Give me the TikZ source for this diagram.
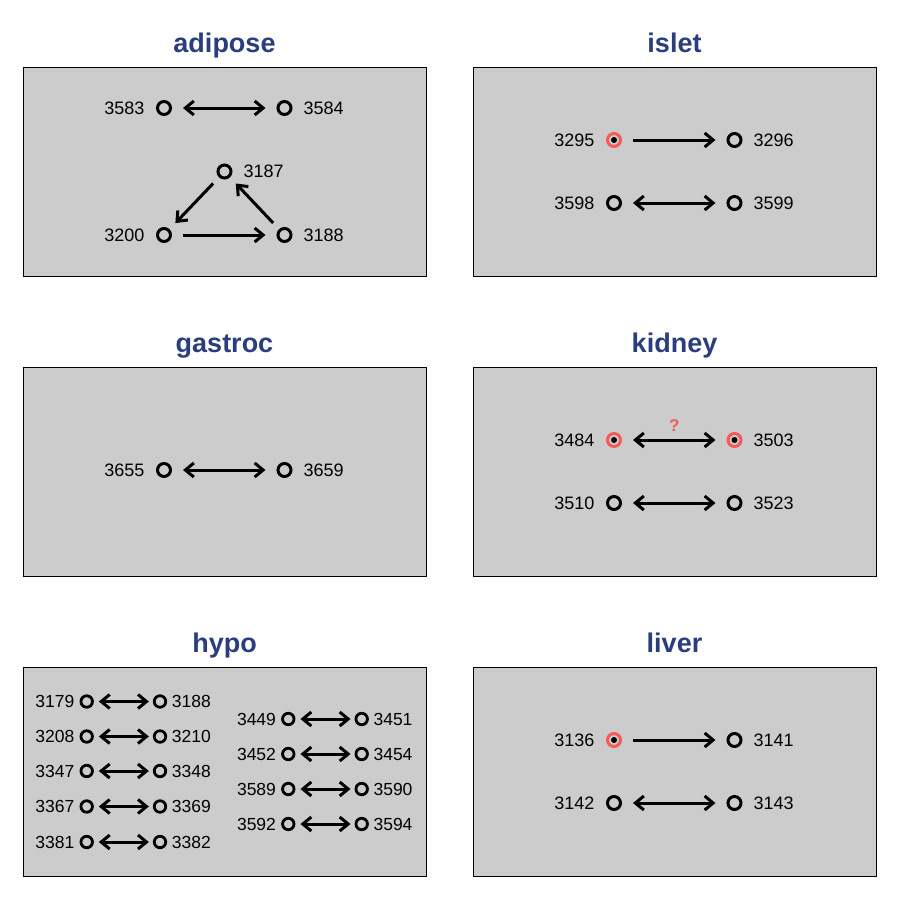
\documentclass[tikz,border=0pt]{standalone}
\usepackage{fontspec}
\setmainfont{Liberation Sans}
\usetikzlibrary{arrows.meta}
\definecolor{panelgray}{HTML}{CCCCCC}
\definecolor{ttlblue}{HTML}{2A3D7F}
\definecolor{ringred}{HTML}{F45A5A}
\tikzset{
  vtip/.tip={Straight Barb[length=8.5pt, width=14pt]},
  panel/.style={draw=black, line width=1pt, fill=panelgray},
  ttl/.style={font=\fontsize{27}{30}\selectfont\bfseries, text=ttlblue, anchor=base},
  vtx/.style={circle, draw=black, line width=3pt, minimum size=13pt, inner sep=0pt},
  rvtx/.style={vtx, draw=ringred, path picture={\fill[black] (path picture bounding box.center) circle (3pt);}},
  svtx/.style={circle, draw=black, line width=2.8pt, minimum size=11.5pt, inner sep=0pt},
  lbl/.style={font=\fontsize{18}{21}\selectfont, inner sep=0pt},
  slbl/.style={font=\fontsize{17.5}{21}\selectfont, inner sep=0pt},
  ll/.style={label={[lbl, label distance=11.5pt]left:#1}},
  rl/.style={label={[lbl, label distance=11pt]right:#1}},
  sll/.style={label={[slbl, label distance=5pt]left:#1}},
  srl/.style={label={[slbl, label distance=4.5pt]right:#1}},
  one/.style={-{vtip}, line width=3pt, shorten >=11pt, shorten <=11pt},
  two/.style={{vtip}-{vtip}, line width=3pt, shorten >=11pt, shorten <=11pt},
  diag/.style={-{vtip}, line width=3pt, shorten >=8.5pt, shorten <=8.5pt},
  stwo/.style={{vtip}-{vtip}, line width=3pt, shorten >=4pt, shorten <=5pt},
  qm/.style={font=\fontsize{17}{20}\selectfont\bfseries, text=ringred}
}
\begin{document}
\begin{tikzpicture}[x=1pt, y=-1pt]
\useasboundingbox (0,0) rectangle (900,900);
\fill[white] (0,0) rectangle (900,900);
% panels
\draw[panel] (23,67) rectangle (426,276);
\draw[panel] (473,67) rectangle (876,276);
\draw[panel] (23,367) rectangle (426,576);
\draw[panel] (473,367) rectangle (876,576);
\draw[panel] (23,667) rectangle (426,876);
\draw[panel] (473,667) rectangle (876,876);
% titles
\node[ttl] (t1) at (224.5,52) {adipose};
\node[ttl] (t2) at (674.5,52) {islet};
\node[ttl] (t3) at (224.5,352) {gastroc};
\node[ttl] (t4) at (674.5,352) {kidney};
\node[ttl] (t5) at (224.5,652) {hypo};
\node[ttl] (t6) at (674.5,652) {liver};
% adipose
\node[vtx, ll=3583] (a3583) at (164,108) {};
\node[vtx, rl=3584] (a3584) at (284.5,108) {};
\node[vtx, rl=3187] (a3187) at (224.5,171.5) {};
\node[vtx, ll=3200] (a3200) at (164,235) {};
\node[vtx, rl=3188] (a3188) at (284.5,235) {};
\draw[two] (a3583) -- (a3584);
\draw[diag] (a3187) -- (a3200);
\draw[one] (a3200) -- (a3188);
\draw[diag] (a3188) -- (a3187);
% islet
\node[rvtx, ll=3295] (i3295) at (614,140) {};
\node[vtx, rl=3296] (i3296) at (734.5,140) {};
\node[vtx, ll=3598] (i3598) at (614,203) {};
\node[vtx, rl=3599] (i3599) at (734.5,203) {};
\draw[one] (i3295) -- (i3296);
\draw[two] (i3598) -- (i3599);
% gastroc
\node[vtx, ll=3655] (g3655) at (164,470) {};
\node[vtx, rl=3659] (g3659) at (284.5,470) {};
\draw[two] (g3655) -- (g3659);
% kidney
\node[rvtx, ll=3484] (k3484) at (614,440) {};
\node[rvtx, rl=3503] (k3503) at (734.5,440) {};
\node[vtx, ll=3510] (k3510) at (614,503) {};
\node[vtx, rl=3523] (k3523) at (734.5,503) {};
\draw[two] (k3484) -- node[qm, above=4pt] (q) {?} (k3503);
\draw[two] (k3510) -- (k3523);
% liver
\node[rvtx, ll=3136] (l3136) at (614,740) {};
\node[vtx, rl=3141] (l3141) at (734.5,740) {};
\node[vtx, ll=3142] (l3142) at (614,803) {};
\node[vtx, rl=3143] (l3143) at (734.5,803) {};
\draw[one] (l3136) -- (l3141);
\draw[two] (l3142) -- (l3143);
% hypo left column
\node[svtx, sll=3179] (h3179) at (86.7,701.5) {};
\node[svtx, srl=3188] (h3188) at (160,701.5) {};
\node[svtx, sll=3208] (h3208) at (86.7,736.5) {};
\node[svtx, srl=3210] (h3210) at (160,736.5) {};
\node[svtx, sll=3347] (h3347) at (86.7,771) {};
\node[svtx, srl=3348] (h3348) at (160,771) {};
\node[svtx, sll=3367] (h3367) at (86.7,806.5) {};
\node[svtx, srl=3369] (h3369) at (160,806.5) {};
\node[svtx, sll=3381] (h3381) at (86.7,842) {};
\node[svtx, srl=3382] (h3382) at (160,842) {};
\draw[stwo] (h3179) -- (h3188);
\draw[stwo] (h3208) -- (h3210);
\draw[stwo] (h3347) -- (h3348);
\draw[stwo] (h3367) -- (h3369);
\draw[stwo] (h3381) -- (h3382);
% hypo right column
\node[svtx, sll=3449] (h3449) at (288.3,719) {};
\node[svtx, srl=3451] (h3451) at (361.7,719) {};
\node[svtx, sll=3452] (h3452) at (288.3,754) {};
\node[svtx, srl=3454] (h3454) at (361.7,754) {};
\node[svtx, sll=3589] (h3589) at (288.3,789) {};
\node[svtx, srl=3590] (h3590) at (361.7,789) {};
\node[svtx, sll=3592] (h3592) at (288.3,824) {};
\node[svtx, srl=3594] (h3594) at (361.7,824) {};
\draw[stwo] (h3449) -- (h3451);
\draw[stwo] (h3452) -- (h3454);
\draw[stwo] (h3589) -- (h3590);
\draw[stwo] (h3592) -- (h3594);
\end{tikzpicture}
\end{document}
